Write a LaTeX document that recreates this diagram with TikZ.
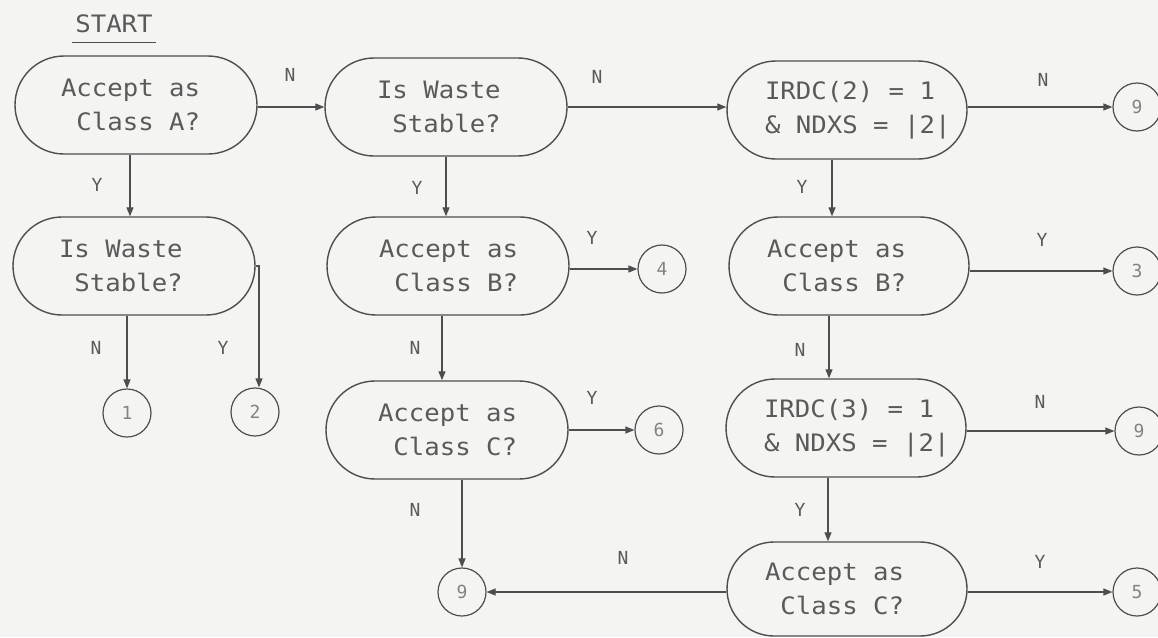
\documentclass[tikz,border=0pt]{standalone}
\usepackage{fontspec}
\usetikzlibrary{arrows.meta}
\newfontfamily\fmono[FakeStretch=1.07]{DejaVu Sans Mono}
\newfontfamily\fmonolab{DejaVu Sans Mono}
\newcommand\boxfont{\fmono\fontsize{24}{34}\selectfont}
\newcommand\cellsp{\hspace*{15.46pt}}
\definecolor{bgc}{HTML}{F4F4F2}
\definecolor{ink}{HTML}{4E4E4E}
\definecolor{txt}{HTML}{5A5A5A}
\begin{document}
\begin{tikzpicture}[x=1pt,y=-1pt,
 stad/.style={draw=ink, line width=1.4pt, rounded corners=49pt, minimum width=242pt, minimum height=98pt, inner sep=0pt, align=left, font=\boxfont, text=txt},
 conn/.style={circle, draw=ink, line width=1.2pt, minimum size=48pt, inner sep=0pt, font=\fmonolab\fontsize{18}{20}\selectfont, text=txt!75},
 lab/.style={font=\fmonolab\fontsize{18}{20}\selectfont, text=txt, inner sep=0pt},
 arr/.style={draw=ink, line width=1.2pt, -{Triangle[length=9pt,width=7pt]}},
]
\useasboundingbox (0,0) rectangle (1158,637);
\fill[bgc] (0,0) rectangle (1158,637);

% START
\node[lab, font=\boxfont] (start) at (114,24) {START};
\draw[ink, line width=1.2pt] ([yshift=-9pt,xshift=-3pt]start.south west) -- ([yshift=-9pt,xshift=3pt]start.south east);

% decision boxes
\node[stad, text width=150pt] (n1) at (136,105) {\mbox{Accept\cellsp as}\\\mbox{\cellsp Class\cellsp A?}};
\node[stad, text width=150pt] (n2) at (134,266) {\mbox{Is\cellsp Waste}\\\mbox{\cellsp Stable?}};
\node[stad, text width=138pt] (n3) at (446,107) {\mbox{Is\cellsp Waste}\\\mbox{\cellsp Stable?}};
\node[stad, text width=138pt] (n4) at (448,266) {\mbox{Accept\cellsp as}\\\mbox{\cellsp Class\cellsp B?}};
\node[stad, text width=138pt] (n5) at (447,430) {\mbox{Accept\cellsp as}\\\mbox{\cellsp Class\cellsp C?}};
\node[stad, text width=164pt, minimum width=240pt] (n6) at (847,110) {\mbox{IRDC(2)\cellsp=\cellsp 1}\\\mbox{\&\cellsp NDXS\cellsp=\cellsp|2|}};
\node[stad, text width=164pt, minimum width=240pt] (n7) at (849,266) {\mbox{Accept\cellsp as}\\\mbox{\cellsp Class\cellsp B?}};
\node[stad, text width=164pt, minimum width=240pt] (n8) at (846,428) {\mbox{IRDC(3)\cellsp=\cellsp 1}\\\mbox{\&\cellsp NDXS\cellsp=\cellsp|2|}};
\node[stad, text width=164pt, minimum width=240pt, minimum height=94pt, rounded corners=47pt] (n9) at (847,589) {\mbox{Accept\cellsp as}\\\mbox{\cellsp Class\cellsp C?}};

% connectors (circles)
\node[conn] (c1) at (127,413) {1};
\node[conn] (c2) at (255,412) {2};
\node[conn] (c4) at (662,269) {4};
\node[conn] (c6) at (659,430) {6};
\node[conn] (c9c) at (462,592) {9};
\node[conn] (c9a) at (1137,107) {9};
\node[conn] (c3) at (1137,271) {3};
\node[conn] (c9b) at (1139,431) {9};
\node[conn] (c5) at (1137,592) {5};

% arrows
\draw[arr] ([xshift=-6pt]n1.south) -- ([xshift=-6pt]n1.south |- n2.north);
\draw[arr] (n1.east |- n3.west) -- (n3.west);
\draw[arr] (c1.north |- n2.south) -- (c1.north);
\draw[arr] (n2.east) -| ([xshift=4pt]c2.north);
\draw[arr] (n3.south) -- (n3.south |- n4.north);
\draw[arr] (n3.east) -- (n3.east -| n6.west);
\draw[arr] (n4.east |- c4.west) -- (c4.west);
\draw[arr] ([xshift=-6pt]n4.south) -- ([xshift=-6pt]n4.south |- n5.north);
\draw[arr] (n5.east |- c6.west) -- (c6.west);
\draw[arr] (c9c.north |- n5.south) -- (c9c.north);
\draw[arr] (n6.east |- c9a.west) -- (c9a.west);
\draw[arr] ([xshift=-15pt]n6.south) -- ([xshift=-15pt]n6.south |- n7.north);
\draw[arr] (n7.east |- c3.west) -- (c3.west);
\draw[arr] ([xshift=-20pt]n7.south) -- ([xshift=-20pt]n7.south |- n8.north);
\draw[arr] (n8.east |- c9b.west) -- (c9b.west);
\draw[arr] ([xshift=-18pt]n8.south) -- ([xshift=-18pt]n8.south |- n9.north);
\draw[arr] (n9.east |- c5.west) -- (c5.west);
\draw[arr] (n9.west |- c9c.east) -- (c9c.east);

% labels
\node[lab] (l1) at (290,75) {N};
\node[lab] (l2) at (97,185) {Y};
\node[lab] (l3) at (96,348) {N};
\node[lab] (l4) at (223,348) {Y};
\node[lab] (l5) at (597,77) {N};
\node[lab] (l6) at (417,188) {Y};
\node[lab] (l7) at (592,238) {Y};
\node[lab] (l8) at (415,348) {N};
\node[lab] (l9) at (592,398) {Y};
\node[lab] (l10) at (415,510) {N};
\node[lab] (l11) at (1043,80) {N};
\node[lab] (l12) at (802,187) {Y};
\node[lab] (l13) at (1042,240) {Y};
\node[lab] (l14) at (800,350) {N};
\node[lab] (l15) at (1040,402) {N};
\node[lab] (l16) at (800,510) {Y};
\node[lab] (l17) at (1040,562) {Y};
\node[lab] (l18) at (623,558) {N};
\end{tikzpicture}
\end{document}
